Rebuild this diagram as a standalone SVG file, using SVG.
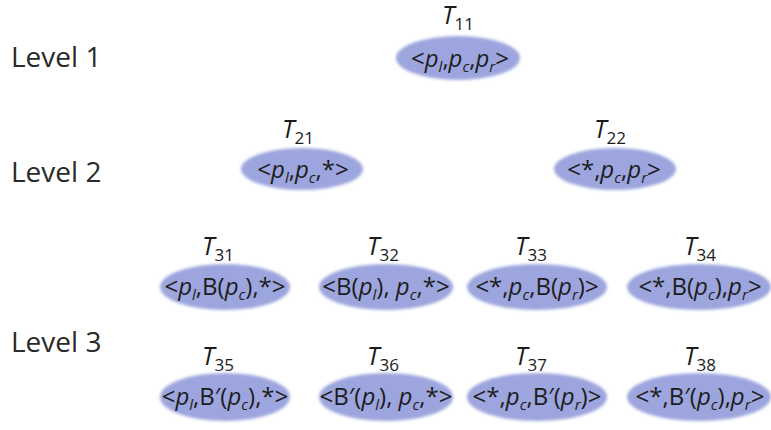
<svg xmlns="http://www.w3.org/2000/svg" width="771" height="430" viewBox="0 0 771 430">
<defs>
<filter id="soft" x="-10%" y="-20%" width="120%" height="140%"><feGaussianBlur stdDeviation="1.6"/></filter>
</defs>
<style>
text{font-family:"Open Sans","Noto Sans",sans-serif;fill:#1c1c1c}
.lvl{font-size:28px;fill:#2a2a2a}
.tl{font-size:25px;font-style:italic;text-anchor:middle}
.ts{font-size:17px;font-style:normal}
.lb{font-size:24px;text-anchor:middle}
.i{font-style:italic}
.s{font-size:15px;font-style:italic}
ellipse{fill:#9ca5dd;filter:url(#soft)}
</style>
<rect width="771" height="430" fill="#ffffff"/>
<g id="levels">
<text class="lvl" x="11" y="67">Level 1</text>
<text class="lvl" x="11" y="182">Level 2</text>
<text class="lvl" x="11" y="352">Level 3</text>
</g>
<g id="connectors"></g>
<g id="T11">
<text class="tl" x="458" y="24">T<tspan class="ts" dy="6">11</tspan></text>
<ellipse cx="458" cy="58" rx="62" ry="22"/>
<text class="lb" x="460" y="67">&lt;<tspan class="i">p</tspan><tspan class="s" dy="5">l</tspan><tspan dy="-5">,</tspan><tspan class="i">p</tspan><tspan class="s" dy="5">c</tspan><tspan dy="-5">,</tspan><tspan class="i">p</tspan><tspan class="s" dy="5">r</tspan><tspan dy="-5">&gt;</tspan></text>
</g>
<g id="T21">
<text class="tl" x="298" y="138">T<tspan class="ts" dy="6">21</tspan></text>
<ellipse cx="302" cy="169" rx="61" ry="21"/>
<text class="lb" x="303" y="178">&lt;<tspan class="i">p</tspan><tspan class="s" dy="5">l</tspan><tspan dy="-5">,</tspan><tspan class="i">p</tspan><tspan class="s" dy="5">c</tspan><tspan dy="-5">,*&gt;</tspan></text>
</g>
<g id="T22">
<text class="tl" x="610" y="138">T<tspan class="ts" dy="6">22</tspan></text>
<ellipse cx="615" cy="169" rx="61" ry="21"/>
<text class="lb" x="614" y="178">&lt;*,<tspan class="i">p</tspan><tspan class="s" dy="5">c</tspan><tspan dy="-5">,</tspan><tspan class="i">p</tspan><tspan class="s" dy="5">r</tspan><tspan dy="-5">&gt;</tspan></text>
</g>
<g id="T31">
<text class="tl" x="218" y="255">T<tspan class="ts" dy="6">31</tspan></text>
<ellipse cx="225" cy="287" rx="65" ry="23"/>
<text class="lb" x="225" y="295">&lt;<tspan class="i">p</tspan><tspan class="s" dy="5">l</tspan><tspan dy="-5">,B(</tspan><tspan class="i">p</tspan><tspan class="s" dy="5">c</tspan><tspan dy="-5">),*&gt;</tspan></text>
</g>
<g id="T32">
<text class="tl" x="383" y="255">T<tspan class="ts" dy="6">32</tspan></text>
<ellipse cx="386" cy="287" rx="67" ry="23"/>
<text class="lb" x="386" y="295">&lt;B(<tspan class="i">p</tspan><tspan class="s" dy="5">l</tspan><tspan dy="-5">), </tspan><tspan class="i">p</tspan><tspan class="s" dy="5">c</tspan><tspan dy="-5">,*&gt;</tspan></text>
</g>
<g id="T33">
<text class="tl" x="531" y="255">T<tspan class="ts" dy="6">33</tspan></text>
<ellipse cx="537" cy="287" rx="70" ry="23"/>
<text class="lb" x="537" y="295">&lt;*,<tspan class="i">p</tspan><tspan class="s" dy="5">c</tspan><tspan dy="-5">,B(</tspan><tspan class="i">p</tspan><tspan class="s" dy="5">r</tspan><tspan dy="-5">)&gt;</tspan></text>
</g>
<g id="T34">
<text class="tl" x="700" y="255">T<tspan class="ts" dy="6">34</tspan></text>
<ellipse cx="699" cy="287" rx="72" ry="23"/>
<text class="lb" x="700" y="295">&lt;*,B(<tspan class="i">p</tspan><tspan class="s" dy="5">c</tspan><tspan dy="-5">),</tspan><tspan class="i">p</tspan><tspan class="s" dy="5">r</tspan><tspan dy="-5">&gt;</tspan></text>
</g>
<g id="T35">
<text class="tl" x="218" y="365">T<tspan class="ts" dy="6">35</tspan></text>
<ellipse cx="225" cy="397" rx="65" ry="24"/>
<text class="lb" x="225" y="405">&lt;<tspan class="i">p</tspan><tspan class="s" dy="5">l</tspan><tspan dy="-5">,B′(</tspan><tspan class="i">p</tspan><tspan class="s" dy="5">c</tspan><tspan dy="-5">),*&gt;</tspan></text>
</g>
<g id="T36">
<text class="tl" x="383" y="365">T<tspan class="ts" dy="6">36</tspan></text>
<ellipse cx="386" cy="397" rx="67" ry="24"/>
<text class="lb" x="386" y="405">&lt;B′(<tspan class="i">p</tspan><tspan class="s" dy="5">l</tspan><tspan dy="-5">), </tspan><tspan class="i">p</tspan><tspan class="s" dy="5">c</tspan><tspan dy="-5">,*&gt;</tspan></text>
</g>
<g id="T37">
<text class="tl" x="531" y="365">T<tspan class="ts" dy="6">37</tspan></text>
<ellipse cx="537" cy="397" rx="70" ry="24"/>
<text class="lb" x="537" y="405">&lt;*,<tspan class="i">p</tspan><tspan class="s" dy="5">c</tspan><tspan dy="-5">,B′(</tspan><tspan class="i">p</tspan><tspan class="s" dy="5">r</tspan><tspan dy="-5">)&gt;</tspan></text>
</g>
<g id="T38">
<text class="tl" x="700" y="365">T<tspan class="ts" dy="6">38</tspan></text>
<ellipse cx="699" cy="397" rx="72" ry="24"/>
<text class="lb" x="700" y="405">&lt;*,B′(<tspan class="i">p</tspan><tspan class="s" dy="5">c</tspan><tspan dy="-5">),</tspan><tspan class="i">p</tspan><tspan class="s" dy="5">r</tspan><tspan dy="-5">&gt;</tspan></text>
</g>
</svg>
